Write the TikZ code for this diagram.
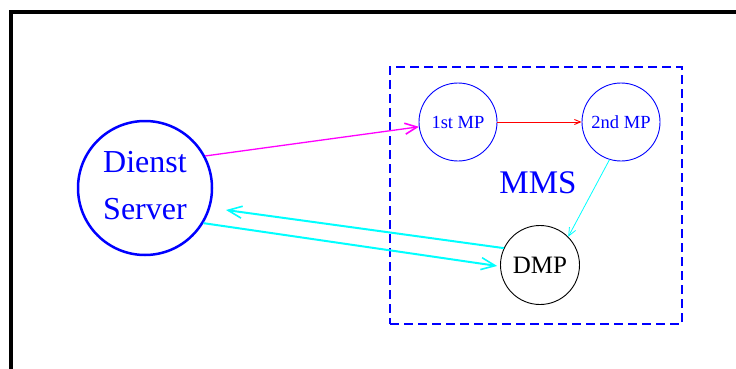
\documentclass[tikz,border=0pt]{standalone}
\usepackage{fontspec}
\setmainfont{Liberation Serif}
\usetikzlibrary{arrows.meta}
\definecolor{linkcyan}{RGB}{0,255,255}
\definecolor{linkmagenta}{RGB}{255,0,255}
\definecolor{linkred}{RGB}{255,0,0}
\definecolor{mmsblue}{RGB}{0,0,255}

\begin{document}
\begin{tikzpicture}[x=1pt,y=-1pt,
    mp/.style={circle,draw=mmsblue,text=mmsblue,line width=0.9pt,minimum size=78pt,inner sep=0pt,font=\fontsize{18.5}{20}\selectfont},
    flow/.style={linkcyan,line width=2pt,-{Straight Barb[length=14pt,width=12pt,line width=1.6pt]}}]
    \useasboundingbox (0,0) rectangle (736,369);
    % outer frame, cut by the page edge
    \draw[line width=4pt] (11,369) -- (11,12) -- (736,12);

    \node (mms box) at (536,195.5) [rectangle,draw=mmsblue,line width=2.5pt,dash pattern=on 9pt off 5pt,minimum width=292pt,minimum height=257pt] {};
    \node (mms) at (538,183) [text=mmsblue,font=\fontsize{33}{36}\selectfont] {MMS};

    \node (server) at (145,188) [circle,draw=mmsblue,line width=2.5pt,minimum size=134pt,inner sep=0pt] {};
    \node (server text) at (145,186) [text=mmsblue,align=center,font=\fontsize{32}{47}\selectfont] {Dienst\\Server};
    \node (mp1) at (458,122) [mp] {1st MP};
    \node (mp2) at (621,122) [mp] {2nd MP};
    \node (dmp) at (540,265) [mp,draw=black,text=black,minimum size=79pt,font=\fontsize{25}{28}\selectfont] {DMP};
    \coordinate (back) at (226,210);

    \draw[linkmagenta,line width=1.3pt,-{Straight Barb[length=12pt,width=11pt,line width=1.6pt]}] (server.28) -- (mp1.187);
    \draw[linkred,line width=0.9pt,-{Straight Barb[length=6pt,width=5pt]}] (mp1.east) -- (mp2.west);
    \draw[linkcyan,line width=0.8pt,-{Straight Barb[length=8pt,width=7pt]}] (mp2.-107) -- (dmp.45);
    \draw[flow] (dmp.155) -- (back);
    \draw[flow,shorten >=3pt] (server.-31) -- (dmp.182);
\end{tikzpicture}
\end{document}
